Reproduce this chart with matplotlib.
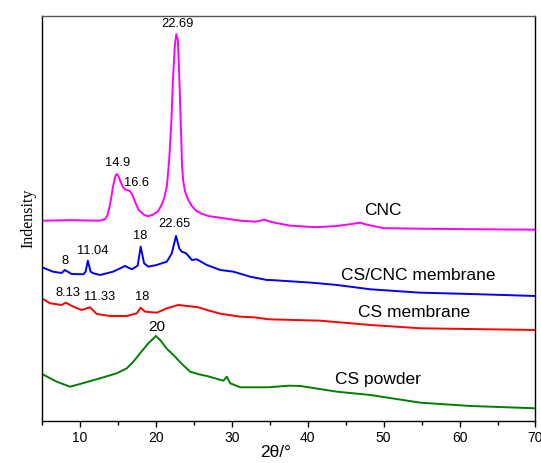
import matplotlib
matplotlib.use("Agg")
import matplotlib.pyplot as plt
import numpy as np
from matplotlib.ticker import MultipleLocator

# XRD patterns (2θ in degrees, intensity in a.u., already vertically offset)
cnc_2theta = [5, 8.7, 12.6, 13.3, 13.6, 13.85, 14.1, 14.35, 14.6, 14.75, 14.9, 15.1, 15.4,
              15.7, 16.0, 16.3, 16.6, 16.9, 17.25, 17.75, 18.5, 19.0, 19.6, 20.3, 20.8,
              21.1, 21.45, 21.75, 22.05, 22.25, 22.5, 22.69, 22.9, 23.1, 23.27, 23.45,
              23.6, 23.85, 24.25, 24.7, 25.3, 26.0, 27.0, 28.4, 31.1, 33.1, 34.3, 35.3,
              37.7, 41.0, 43.6, 45.6, 46.9, 47.8, 50.0, 54.8, 61.4, 70]
cnc_int = [200, 200.5, 200, 201.5, 205, 212, 222, 234, 242.5, 246, 246.5, 244, 238,
           233, 231, 230.5, 229.5, 226, 219, 210.5, 205.5, 204.5, 206, 209.5, 216.5,
           222.5, 234.5, 260.5, 300.5, 340.5, 375.5, 386.5, 380.5, 340.5, 300.5, 255,
           240, 229, 221, 215, 210, 207, 204.5, 203, 200, 199, 201, 198.5,
           195, 193.5, 194.5, 196.5, 198, 196, 192.5, 192, 191.5, 191]

comp_2theta = [5, 6.45, 7.6, 8.0, 8.9, 10.45, 10.75, 11.04, 11.4, 11.76, 12.65, 14.36,
               15.94, 16.83, 17.6, 18.0, 18.45, 19.0, 20.1, 21.44, 22.1, 22.65, 23.1,
               23.42, 23.98, 24.74, 25.4, 26.71, 28.47, 30.22, 32.42, 34.62, 35.06,
               40.56, 43.85, 48.24, 54.84, 61.43, 70]
comp_int = [153.4, 149, 147.7, 150.7, 146.7, 146.4, 149, 160, 149, 147.4, 145.7, 149,
            154.7, 151.4, 155, 174, 157.4, 154, 155.7, 159, 167.4, 184.7, 172,
            169, 167.4, 160.7, 161.4, 155.7, 150.7, 149, 144, 140.7, 140.7,
            138, 135.7, 131.4, 128, 126.7, 124.7]

csm_2theta = [5, 6.05, 7.6, 8.13, 9.13, 10.23, 11.33, 12.21, 13.97, 16.17, 17.49, 18.0,
              18.58, 20.12, 21.44, 22.97, 24.08, 25.6, 26.71, 28.5, 31.1, 32.86, 34.84,
              41.65, 48.24, 54.84, 70]
csm_int = [122.4, 117.4, 115.7, 118, 114, 110.7, 113.4, 106.7, 104.7, 104.7, 107.4, 113,
           109, 108, 112.4, 115.7, 114.7, 113.4, 110.7, 107, 104, 103.4, 101.4,
           100, 95.7, 92.4, 90.7]

csp_2theta = [5, 6.94, 8.69, 10.01, 12.65, 14.85, 16.17, 17.04, 17.92, 19.01, 20.0,
              20.56, 21.44, 22.31, 23.4, 24.51, 25.6, 26.71, 28.9, 29.35, 29.79, 31.1,
              34.84, 37.5, 39.01, 43.85, 48.24, 54.84, 61.43, 70]
csp_int = [46.7, 39, 34, 36.7, 42.4, 47.4, 52.4, 59, 67.4, 77.4, 84.7,
           80.7, 72, 65.7, 57, 49, 46.5, 44.7, 40, 44, 37.4, 33.4,
           33.4, 35, 34.7, 29, 25.7, 18, 14.7, 12.4]

# peak annotations: (2θ, text dx in degrees, text dy in a.u., font size)
cnc_peaks = [(14.9, 0.0, 11, 9.3), (16.6, 0.9, 8, 9.3), (22.69, 0.1, 10, 9.3)]
comp_peaks = [(8.0, 0.1, 9, 9.3), (11.04, 0.6, 10, 9.3), (18.0, -0.1, 11, 9.3),
              (22.65, -0.15, 12, 9.3)]
csm_peaks = [(8.13, 0.25, 10, 9.3), (11.33, 1.2, 10, 9.3), (18.0, 0.25, 11, 9.3)]
csp_peaks = [(20.0, 0.1, 9, 11)]

series = [
    (cnc_2theta, cnc_int, "#FF00FF", cnc_peaks, "CNC", (49.96, 209.7)),
    (comp_2theta, comp_int, "#0000FF", comp_peaks, "CS/CNC membrane", (54.6, 144.7)),
    (csm_2theta, csm_int, "#FF0000", csm_peaks, "CS membrane", (54.05, 107.7)),
    (csp_2theta, csp_int, "#008000", csp_peaks, "CS powder", (49.3, 40.7)),
]

plt.rcParams['font.family'] = ['Liberation Sans', 'DejaVu Sans']

fig = plt.figure(figsize=(5.41, 4.63), dpi=100)
ax = fig.add_axes([0.0776, 0.0914, 0.9122, 0.8747])

for tt, yy, color, peaks, name, pos in series:
    ax.plot(tt, yy, color=color, linewidth=1.4)
    for p, dx, dy, fs in peaks:
        yp = np.interp(p, tt, yy)
        ax.text(p + dx, yp + dy, f"{p:g}", fontsize=fs, ha='center', va='center')
    ax.text(pos[0], pos[1], name, fontsize=12.5, ha='center', va='center')

ax.set_xlim(5, 70)
ax.set_ylim(0, 405)
ax.xaxis.set_major_locator(MultipleLocator(10))
ax.xaxis.set_minor_locator(MultipleLocator(5))
ax.tick_params(axis='x', which='major', direction='out', length=4, width=1, labelsize=10)
ax.tick_params(axis='x', which='minor', direction='out', length=3, width=1)
ax.set_yticks([])

for s in ax.spines.values():
    s.set_linewidth(1.0)
    s.set_color('black')
ax.spines['top'].set_color('#555555')

ax.set_xlabel("2θ/°", fontsize=12.5)
ax.xaxis.set_label_coords(0.473, -0.06)
ax.set_ylabel("Indensity", fontsize=11.5, family=['Liberation Serif', 'DejaVu Serif'])

fig.savefig("out.png", dpi=100)
